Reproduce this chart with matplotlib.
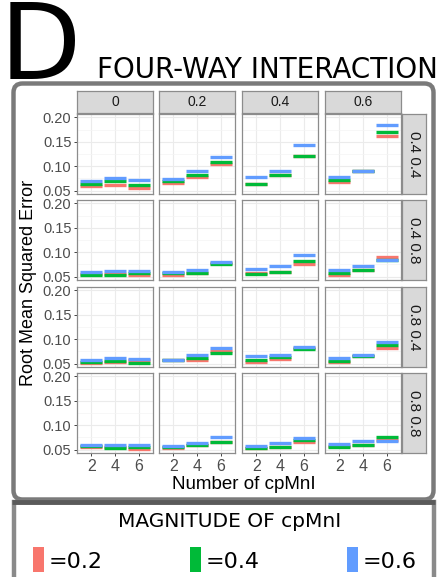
import matplotlib
matplotlib.use("Agg")
import matplotlib.pyplot as plt
from matplotlib.patches import FancyBboxPatch, Rectangle

W, H = 438, 577

col_labels = ["0", "0.2", "0.4", "0.6"]
row_labels = ["0.4 0.4", "0.4 0.8", "0.8 0.4", "0.8 0.8"]
n_cpmni = [2, 4, 6]
y_ticks = [0.05, 0.10, 0.15, 0.20]
y_ticklabels = ["0.05", "0.10", "0.15", "0.20"]

# rmse[row][col] -> values at n_cpmni = 2, 4, 6
rmse_mag02 = [
    [[0.059, 0.061, 0.056], [0.065, 0.077, 0.104], [0.064, 0.082, 0.121], [0.067, 0.091, 0.161]],
    [[0.056, 0.055, 0.053], [0.053, 0.058, 0.077], [0.058, 0.060, 0.075], [0.053, 0.064, 0.090]],
    [[0.052, 0.053, 0.057], [0.057, 0.058, 0.075], [0.054, 0.060, 0.082], [0.053, 0.066, 0.082]],
    [[0.055, 0.056, 0.051], [0.053, 0.059, 0.065], [0.053, 0.055, 0.065], [0.058, 0.060, 0.069]],
]
rmse_mag04 = [
    [[0.064, 0.069, 0.061], [0.070, 0.082, 0.108], [0.064, 0.082, 0.121], [0.071, 0.091, 0.170]],
    [[0.054, 0.054, 0.058], [0.058, 0.058, 0.076], [0.055, 0.060, 0.082], [0.057, 0.064, 0.085]],
    [[0.054, 0.055, 0.051], [0.057, 0.062, 0.071], [0.058, 0.064, 0.080], [0.056, 0.065, 0.088]],
    [[0.057, 0.053, 0.055], [0.056, 0.059, 0.065], [0.053, 0.055, 0.069], [0.055, 0.060, 0.075]],
]
rmse_mag06 = [
    [[0.069, 0.076, 0.072], [0.073, 0.091, 0.119], [0.0775, 0.091, 0.143], [0.078, 0.091, 0.185]],
    [[0.059, 0.061, 0.062], [0.060, 0.063, 0.079], [0.066, 0.072, 0.094], [0.063, 0.072, 0.085]],
    [[0.058, 0.062, 0.060], [0.058, 0.068, 0.082], [0.065, 0.068, 0.085], [0.062, 0.067, 0.095]],
    [[0.060, 0.059, 0.059], [0.058, 0.064, 0.076], [0.058, 0.064, 0.073], [0.062, 0.068, 0.068]],
]
series = [("=0.2", "#F8766D", rmse_mag02),
          ("=0.4", "#00BA38", rmse_mag04),
          ("=0.6", "#619CFF", rmse_mag06)]


def rect(x0, y0, x1, y1):
    return [x0 / W, 1 - y1 / H, (x1 - x0) / W, (y1 - y0) / H]


fig = plt.figure(figsize=(W / 100, H / 100), dpi=100)
fig.patch.set_facecolor("white")

# background layer for frames and outer texts
bg = fig.add_axes([0, 0, 1, 1])
bg.set_xlim(0, W)
bg.set_ylim(H, 0)
bg.axis("off")

bg.add_patch(FancyBboxPatch((13.5, 83.5), 420, 416, boxstyle="round,pad=0,rounding_size=9",
                            fc="white", ec="#7a7a7a", lw=3.2))
bg.add_patch(Rectangle((13.5, 502), 420, 80, fc="white", ec="#8a8a8a", lw=3.2))
bg.plot([12, 435], [501.5, 501.5], color="#5a5a5a", lw=3.5, solid_capstyle="butt")

bg.text(0, 79, "D", fontsize=76, family="DejaVu Sans", va="baseline", ha="left")
bg.text(97, 78, "FOUR-WAY INTERACTION", fontsize=20, family="DejaVu Sans",
        va="baseline", ha="left")

# legend
bg.text(230, 527, "MAGNITUDE OF cpMnI", fontsize=14.5, family="DejaVu Sans",
        ha="center", va="baseline")
for i, (lab, col, _) in enumerate(series):
    x0 = [33, 190, 347][i]
    bg.add_patch(Rectangle((x0, 547), 11, 25, fc=col, ec="none"))
    bg.text(x0 + 16, 568, lab, fontsize=16, family="DejaVu Sans", ha="left", va="baseline")

col_x = [77, 159, 242, 325]
row_y = [114, 200, 287, 373]
pw, ph = 76, 80
sans = "Liberation Sans"

for r in range(4):
    for c in range(4):
        ax = fig.add_axes(rect(col_x[c], row_y[r], col_x[c] + pw, row_y[r] + ph))
        ax.set_xlim(0.78, 7.22)
        ax.set_ylim(0.043, 0.207)
        ax.set_xticks(n_cpmni)
        ax.set_xticks([3, 5], minor=True)
        ax.set_yticks(y_ticks)
        ax.set_yticks([0.075, 0.125, 0.175], minor=True)
        ax.grid(True, which="major", color="#ebebeb", lw=0.8)
        ax.grid(True, which="minor", axis="y", color="#f4f4f4", lw=0.5)
        ax.set_axisbelow(True)
        for s in ax.spines.values():
            s.set_color("#8c8c8c")
            s.set_linewidth(0.9)
        ax.tick_params(which="minor", length=0)
        ax.tick_params(which="major", length=2.5, width=0.7, color="#444444",
                       labelcolor="#4d4d4d", labelsize=10.5, pad=1.5)
        for lab, col, vals in series:
            ys = vals[r][c]
            ax.hlines(ys, [x - 0.93 for x in n_cpmni], [x + 0.93 for x in n_cpmni],
                      color=col, lw=2.4)
        if c == 0:
            ax.set_yticklabels(y_ticklabels, family=sans)
        else:
            ax.tick_params(axis="y", labelleft=False, length=0)
        if r == 3:
            ax.set_xticklabels([str(v) for v in n_cpmni], family=sans, fontsize=11.5)
        else:
            ax.tick_params(axis="x", labelbottom=False, length=0)

# column strips
for c in range(4):
    sax = fig.add_axes(rect(col_x[c], 91, col_x[c] + pw, 113))
    sax.set_xticks([])
    sax.set_yticks([])
    sax.set_facecolor("#d9d9d9")
    for s in sax.spines.values():
        s.set_color("#8c8c8c")
        s.set_linewidth(0.9)
    sax.text(0.5, 0.48, col_labels[c], transform=sax.transAxes, ha="center", va="center",
             fontsize=10, family=sans, color="#1a1a1a")

# row strips
for r in range(4):
    sax = fig.add_axes(rect(402, row_y[r], 426, row_y[r] + ph))
    sax.set_xticks([])
    sax.set_yticks([])
    sax.set_facecolor("#d9d9d9")
    for s in sax.spines.values():
        s.set_color("#8c8c8c")
        s.set_linewidth(0.9)
    sax.text(0.5, 0.5, row_labels[r], transform=sax.transAxes, ha="center", va="center",
             rotation=-90, fontsize=11, family=sans, color="#1a1a1a")

bg.text(244, 489, "Number of cpMnI", fontsize=13.5, family=sans, ha="center", va="baseline")
bg.text(29, 283, "Root Mean Squared Error", fontsize=13, family=sans, ha="center",
        va="center", rotation=90)

fig.savefig("out.png", dpi=100)
